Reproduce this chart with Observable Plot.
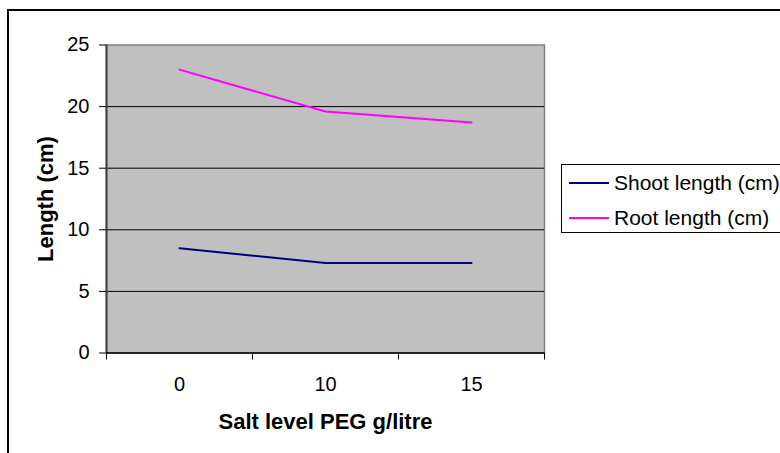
<!DOCTYPE html>
<html>
<head>
<meta charset="utf-8">
<script src="https://cdn.jsdelivr.net/npm/d3@7"></script>
<script src="https://cdn.jsdelivr.net/npm/@observablehq/plot@0.6"></script>
<style>
  html, body { margin: 0; padding: 0; background: #fff; }
  #wrap { position: relative; width: 780px; height: 453px; overflow: hidden; font-family: "Liberation Sans", Arial, sans-serif; }
  #border { position: absolute; left: 7px; top: 9px; width: 900px; height: 600px; border: 2px solid #000; box-sizing: border-box; }
  #chart { position: absolute; left: 0; top: 0; }
  #legend { position: absolute; left: 561px; top: 164px; width: 260px; height: 69px; border: 1px solid #000; background: #fff; box-sizing: border-box; }
  .row { position: absolute; left: 0; height: 24px; display: flex; align-items: center; font-size: 21px; color: #000; white-space: nowrap; }
  .sw { display: inline-block; width: 40px; height: 2px; margin-left: 7px; margin-right: 5px; }
</style>
</head>
<body>
<div id="wrap">
  <div id="border"></div>
  <div id="chart"></div>
  <div id="legend"></div>
</div>
<script>
const levels = ["0", "10", "15"];
const shootLength = [8.5, 7.3, 7.3];
const rootLength = [23.0, 19.6, 18.7];
const yTicks = [0, 5, 10, 15, 20, 25];
const seriesNames = ["Shoot length (cm)", "Root length (cm)"];
const seriesColors = ["#000080", "#ff00ff"];

const rows = [];
levels.forEach((lv, i) => {
  rows.push({series: seriesNames[0], i, value: shootLength[i]});
  rows.push({series: seriesNames[1], i, value: rootLength[i]});
});
const boundaries = d3.range(-0.5, levels.length, 1);

const fontFamily = '"Liberation Sans", Arial, sans-serif';

const plot = Plot.plot({
  width: 780,
  height: 453,
  marginLeft: 106,
  marginRight: 236,
  marginTop: 44.5,
  marginBottom: 100.5,
  style: {fontFamily, fontSize: "20px", color: "#000", background: "transparent", overflow: "visible"},
  x: {type: "linear", domain: [-0.5, levels.length - 0.5]},
  y: {domain: [0, 25]},
  color: {domain: seriesNames, range: seriesColors},
  marks: [
    Plot.frame({fill: "#c0c0c0", stroke: "#808080", strokeWidth: 1.5}),
    Plot.gridY(yTicks.filter(t => t > 0 && t < 25), {stroke: "#000", strokeOpacity: 1, strokeWidth: 1}),
    Plot.ruleX([-0.5], {stroke: "#404040", strokeWidth: 2}),
    Plot.ruleY([0], {stroke: "#000", strokeWidth: 1.5}),
    Plot.axisY({ticks: yTicks, tickSize: 7, tickPadding: 10, label: null, fontSize: 20, stroke: "#000"}),
    Plot.axisX({ticks: boundaries, tickSize: 7, tickFormat: () => "", label: null, stroke: "#000"}),
    Plot.axisX({ticks: d3.range(levels.length), tickSize: 0, tickPadding: 24, tickFormat: i => levels[i], label: null, fontSize: 20}),
    Plot.line(rows, {x: "i", y: "value", z: "series", stroke: "series", strokeWidth: 2}),
    Plot.text(["Length (cm)"], {frameAnchor: "left", textAnchor: "middle", rotate: -90, dx: -61, fontWeight: "bold", fontSize: 22, fill: "#000"}),
    Plot.text(["Salt level PEG g/litre"], {frameAnchor: "bottom", textAnchor: "middle", dy: 76, lineAnchor: "bottom", fontWeight: "bold", fontSize: 22, fill: "#000"})
  ]
});
document.getElementById("chart").appendChild(plot);

const legend = document.getElementById("legend");
seriesNames.forEach((name, k) => {
  const row = document.createElement("div");
  row.className = "row";
  row.style.top = (k === 0 ? 6 : 41) + "px";
  const sw = document.createElement("span");
  sw.className = "sw";
  sw.style.background = seriesColors[k];
  const tx = document.createElement("span");
  tx.textContent = name;
  row.appendChild(sw);
  row.appendChild(tx);
  legend.appendChild(row);
});
</script>
</body>
</html>
